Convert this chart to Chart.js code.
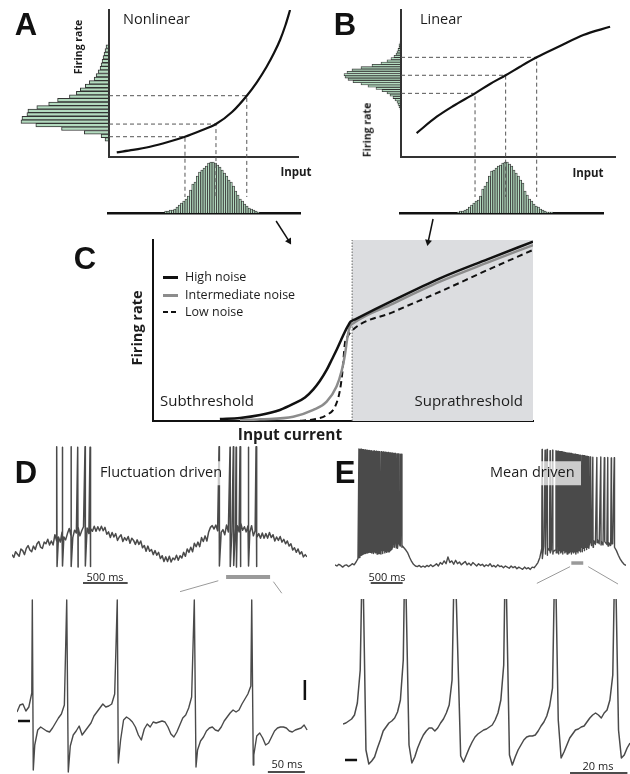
<!DOCTYPE html>
<html>
<head>
<meta charset="utf-8">
<title>Noise and firing rate</title>
<script src="https://cdn.jsdelivr.net/npm/chart.js@4.4.1/dist/chart.umd.min.js"></script>
<style>
  body { margin: 0; background: #fff; }
  #fig { position: relative; width: 630px; height: 774px; overflow: hidden; font-family: "Open Sans", "Noto Sans", sans-serif; color: #1c1c1c; }
  #fig canvas { position: absolute; }
  .t { position: absolute; white-space: nowrap; line-height: 1; }
  .panel { font-family: "Liberation Sans", Arial, sans-serif; font-weight: bold; font-size: 31px; color: #111; }
</style>
</head>
<body>
<div id="fig"></div>
<script>
// ---- A: nonlinear input/output (input and rate in arbitrary units 0-10) ----
var aCurveX = [0.41, 1.27, 2.17, 3.12, 4.02, 4.81, 5.66, 6.51, 7.29, 7.83, 8.34, 8.73, 9.05, 9.34, 9.58];
var aCurveY = [0.32, 0.48, 0.70, 1.02, 1.38, 1.77, 2.24, 3.06, 4.17, 5.10, 6.14, 7.07, 7.96, 8.98, 10.0];
var aProbeX = [4.02, 5.66, 7.29];
var aProbeY = [1.38, 2.24, 4.17];
// firing-rate histogram, bins from low rate to high rate
var aRateBinStart = 0.29, aRateBinWidth = 0.291;
var aRateCounts = [4, 8, 25, 48, 74, 89, 88, 83, 82, 73, 61, 52, 40, 33, 29, 24, 20, 15, 13, 11, 9, 8, 7, 6, 5, 4, 3];
// input histogram
var aInBinStart = 1.905, aInBinWidth = 0.179;
var aInCounts = [2, 2, 3, 3, 4, 6, 8, 10, 12, 14, 17, 23, 29, 31, 37, 41, 43, 45, 47, 50, 51, 51, 50, 48, 46, 43, 40, 37, 33, 31, 27, 22, 18, 14, 12, 9, 7, 5, 4, 3, 2, 1];

// ---- B: linear input/output ----
var bCurveX = [0.73, 1.67, 2.44, 3.46, 4.16, 4.89, 5.56, 6.34, 7.43, 8.52, 9.77];
var bCurveY = [1.63, 2.74, 3.47, 4.33, 4.97, 5.56, 6.14, 6.78, 7.55, 8.30, 8.86];
var bProbeX = [3.46, 4.89, 6.34];
var bProbeY = [4.33, 5.56, 6.78];
var bRateBinStart = 2.84, bRateBinWidth = 0.186;
var bRateCounts = [1, 2, 3, 4, 6, 8, 11, 14, 19, 25, 33, 40, 48, 53, 56, 57, 54, 49, 40, 29, 20, 14, 10, 7, 5, 4, 3, 2, 2, 1];
var bInBinStart = 1.59, bInBinWidth = 0.156;
var bInCounts = [1, 2, 2, 3, 4, 6, 8, 10, 12, 13, 17, 24, 27, 31, 37, 42, 43, 45, 47, 48, 50, 51, 51, 49, 47, 43, 40, 37, 33, 30, 22, 18, 14, 12, 9, 7, 6, 4, 3, 2, 1, 1, 1];

// ---- C: f-I curves for three noise levels ----
var cThreshold = 5.24;
var cHighX = [1.76, 2.29, 2.82, 3.34, 3.69, 4.00, 4.22, 4.39, 4.57, 4.70, 4.83, 4.95, 5.05, 5.13, 5.20, 5.32, 6.32, 7.55, 8.8, 10.0];
var cHighY = [0.11, 0.17, 0.33, 0.61, 0.94, 1.30, 1.75, 2.21, 2.82, 3.37, 3.92, 4.48, 4.93, 5.25, 5.49, 5.62, 6.66, 7.88, 8.93, 9.91];
var cMidX = [2.29, 2.82, 3.69, 4.22, 4.57, 4.83, 4.97, 5.05, 5.12, 5.18, 5.27, 6.32, 7.55, 8.8, 10.0];
var cMidY = [0.03, 0.09, 0.24, 0.61, 1.07, 1.90, 2.82, 3.65, 4.66, 5.21, 5.40, 6.49, 7.70, 8.75, 9.72];
var cLowX = [3.87, 4.22, 4.57, 4.79, 4.92, 4.99, 5.05, 5.12, 5.20, 6.32, 7.55, 8.8, 10.0];
var cLowY = [0.01, 0.09, 0.33, 0.79, 1.71, 2.82, 4.29, 4.66, 4.92, 6.02, 7.14, 8.34, 9.45];

// ---- D: fluctuation driven recording (mV), top trace sampled every 20 ms ----
var dTopStep = 20;
var dTopV = [-66.5, -69, -64, -66, -68, -61.5, -63, -66.5, -61, -58.5,
  -62.5, -64, -59, -62, -57, -55, -60, -61, -55.5, -57,
  -53, -58, -54.5, -58, -49, -54.5, -51, -55.5, -46.5, -51,
  -53.5, -48, -43.5, -50, -51.5, -45, -47.5, -42.5, -50, -45.5,
  -42, -47.5, -43, -48, -43.5, -46, -41.5, -46, -42, -45.5,
  -41.5, -45.5, -42.5, -48.5, -46.5, -51.5, -47, -51, -48, -54,
  -51, -49, -55, -51.5, -54, -50.5, -56.5, -52, -54, -57.5,
  -53.5, -57.5, -54.5, -60.5, -58.5, -63.5, -59, -63.5, -62, -66.5,
  -63, -67, -64.5, -70, -67.5, -72.5, -68.5, -72.5, -68, -73,
  -69.5, -71, -67, -71.5, -67.5, -69.5, -64.5, -68, -61.5, -64.5,
  -60, -64, -56.5, -59.5, -55.5, -59.5, -51.5, -55, -50, -54.5,
  -46.5, -42.5, -41, -44, -40.5, -45.5, -41, -47, -44.5, -49,
  -40.5, -46.5, -40.5, -46, -36.5, -43.5, -41, -46.5, -38.5, -45,
  -42, -46.5, -41, -47, -41, -50, -45.5, -51.5, -48, -52,
  -47.5, -52, -48, -52, -47, -51.5, -49, -54.5, -51, -54,
  -50.5, -55.5, -53, -57, -54.5, -59, -57, -62.5, -60.5, -64.5,
  -61.5, -66, -64, -68.5, -66.5, -68.5];
var dSpikeTimes = [500, 563, 660, 735, 817, 873, 2316, 2439, 2476, 2507, 2551, 2644, 2730];
var dSpikePeaks = [28.5, 28, 28.5, 28, 28.5, 28, 28.5, 28, 28.5, 28, 28.5, 28, 28.5];
var dSpikeTroughs = [-77, -76.5, -77, -77.5, -76.5, -77, -76.5, -77, -76, -77.5, -77, -76.5, -77];
// expanded D trace, sampled every 4 ms (null where the spike covers it)
var dBotStep = 4;
var dBotV = [-55.5, -52, -51.5, -55, -53, -46, -72, -64.5, -63, -64,
  -65, -65.5, -63.5, -61, -58.5, -56.5, -52, null, -72.5, -67,
  -65, -62.5, -67, -65, -63, -61, -57.5, -55.5, -53.5, -51.5,
  -53, -52.5, -51.5, -46.5, null, -69.5, -59.5, -58, -59, -60.5,
  -63, -67, -69.5, -64, -61.5, -63, -60.5, -61, -60.5, -60,
  -60.5, -63, -66.5, -68, -65.5, -62, -58.5, -57, -53.5, -48,
  null, -74.5, -70, -68, -65, -63.5, -63, -64.5, -65, -63,
  -60, -58, -56, -54.5, -55.5, -54.5, -51.5, -49, -46.5, -42.5,
  -77, -67.5, -66, -68.5, -72, -71, -68, -65, -63.5, -63,
  -63, -63.5, -65, -65.5, -64.5, -64, -63.5, -62, -64.5];
var dBotSpikeTimes = [20.7, 67.2, 135.5, 239.6, 317.2];
var dBotSpikePeaks = [0.5, 0.5, 0.5, 0.5, 0.5];
var dBotTroughTimes = [22.0, 69.3, 136.9, 241.9, 319.3];
var dBotTroughs = [-84.5, -85.5, -81, -83, -82];

// ---- E: mean driven recording (mV), top trace sampled every 30 ms ----
var eTopStep = 30;
var eTopV = [-75.5, -76.5, -75, -76, -77.5, -76, -75.5, -77, -76, -74.5,
  -75.5, -73, -70, -62, -60.5, -62.5, -63, -64.5, -64, -65,
  -65.5, -65, -66, -65.5, -66, -65.5, -65, -64.5, -64, -62.5,
  -60, -57, -60.5, -56, -59, -58.5, -60.5, -62.5, -65, -69,
  -72.5, -75, -76.5, -77, -76, -77.5, -76.5, -77.5, -76, -77,
  -75.5, -77, -76, -74.5, -76.5, -73.5, -75, -72, -74.5, -68.5,
  -73.5, -72, -75, -71.5, -74.5, -73, -75.5, -74, -72.5, -75.5,
  -74, -76, -73.5, -75, -76.5, -74.5, -76, -75, -77, -75.5,
  -76.5, -74.5, -77, -76, -77.5, -75.5, -77, -76.5, -78, -76.5,
  -77.5, -78.5, -76.5, -78, -77, -79, -77.5, -78.5, -79.5, -77.5,
  -79, -78, -79.5, -77.5, -78, -76, -73.5, -69, -61, -59,
  -61.5, -60.5, -63, -62, -64, -62.5, -65, -63, -64.5, -62,
  -64, -63, -65, -62.5, -64, -61, -63.5, -60, -62.5, -58,
  -61, -56.5, -60, -55, -58.5, -54, -57.5, -53, -57, -54.5,
  -58, -55, -57.5, -56, -58.5, -57, -60, -63, -67, -70.5,
  -73, -75, -76];
var eSpikeTimes = [375, 392, 409, 426, 443, 460, 477, 494, 511, 528, 545, 562, 579, 597, 615, 633, 651, 669, 687, 705,
  723, 741, 759, 777, 795, 813, 831, 849, 867, 885, 905, 925, 948, 975, 1000, 1022, 1045,
  3245, 3292, 3323, 3370, 3410, 3463,
  3480, 3497, 3514, 3531, 3548, 3565, 3582, 3599, 3616, 3633, 3650, 3667, 3684, 3701, 3718,
  3735, 3752, 3769, 3786, 3803, 3820, 3837, 3854, 3871, 3888, 3905, 3922, 3939, 3956, 3973,
  4002, 4040, 4103, 4165, 4220, 4274, 4329, 4376];
var eSpikePeaks = [26.5, 26, 26.3, 25.8, 25.9, 25.5, 25.7, 25.3, 25.4, 25, 25.2, 24.8, 25, 24.6, 24.8, 24.4, 24.6, 24.2, 24.3, 24,
  24.1, 23.7, 23.9, 23.5, 23.6, 23.2, 23.4, 23, 23.1, 22.8, 22.9, 22.5, 22.6, 22.2, 22.3, 22, 21.8,
  26, 25.5, 26, 25, 25.5, 25,
  24.5, 24.5, 24.2, 24, 24, 23.8, 23.5, 23.5, 23.2, 23, 23, 22.8, 22.5, 22.5, 22.2,
  22, 22, 21.8, 21.5, 21.5, 21.2, 21, 21, 20.8, 20.5, 20.5, 20.2, 20, 20, 19.8,
  19.5, 19.2, 19, 19.5, 18.8, 19, 18.5, 18.8];
var eSpikeTroughs = [-69, -67.5, -67, -66.5, -66, -65.5, -65.5, -65, -65, -64.5, -64.5, -64, -64, -64, -63.5, -63.5, -63.5, -63, -63, -63,
  -63, -63, -63, -63.5, -63.5, -63.5, -64, -64, -63, -62, -58, -60, -57, -61, -56, -59, -60,
  -70, -66, -67, -65, -66, -65,
  -64, -66, -63, -65, -64, -66, -63, -65, -64, -66, -62, -65, -64, -66, -63,
  -65, -64, -66, -62, -65, -63, -64, -60, -64, -58, -63, -60, -62, -57, -61,
  -55, -60, -56, -58, -55, -59, -57, -60];
// expanded E trace, sampled every 1 ms (null where the spike peak covers it)
var eBotStep = 1;
var eBotV = [-52, -51.5, -50.5, -49.5, -47.5, -41.5, -25, null, -65, -72,
  -70.5, -68.5, -64, -60, -55.5, -53.5, -51.5, -50.5, -49, -46,
  -40, -20, null, -62.5, -71.5, -68.5, -64, -60.5, -57.5, -55.5,
  -54, -54, -55.5, -54, -51.5, -49.5, -46.5, -42.5, -30, null,
  null, -68, -71, -67.5, -64, -61, -58.5, -57, -56, -55,
  -54.5, -53.5, -52.5, -50, -46.5, -40, -22.5, null, -67.5, -72.5,
  -68.5, -65, -62.5, -60, -58.5, -58, -58, -57.5, -55.5, -53,
  -51, -48, -43, -34, null, -50, -69, -66, -62.5, -59,
  -57, -55, -54.5, -53.5, -53, -51, -49, -47.5, -46.5, -47.5,
  -49, -46.5, -45, -40, -27.5, null, -55, -69, -67.5, -64, -61.5];
var eBotSpikeTimes = [6.8, 21.6, 38.9, 56.6, 73.9, 94.8];
var eBotSpikePeaks = [40, 40, 40, 40, 40, 40];

var fig = document.getElementById('fig');
var spikeWidth = 4;   // ms between peak and trough on the slow traces
var probeFloor = -2.72;

function makeChart(box, area, type, datasets, scales, more) {
    var canvas = document.createElement('canvas');
    canvas.width = box[2];
    canvas.height = box[3];
    canvas.style.left = box[0] + 'px';
    canvas.style.top = box[1] + 'px';
    fig.appendChild(canvas);
    var options = {
        responsive: false,
        animation: false,
        devicePixelRatio: 1,
        events: [],
        layout: { padding: { left: area[0] - box[0], top: area[1] - box[1], right: box[0] + box[2] - area[2], bottom: box[1] + box[3] - area[3] } },
        plugins: { legend: { display: false }, tooltip: { enabled: false } },
        scales: scales
    };
    for (var k in more) options[k] = more[k];
    return new Chart(canvas.getContext('2d'), { type: type, data: { datasets: datasets }, options: options });
}

function lin(min, max, extra) {
    var s = { type: 'linear', min: min, max: max, display: false };
    for (var k in extra) s[k] = extra[k];
    return s;
}

function axisLine(color, width) {
    return { display: true, grid: { display: false, drawTicks: false }, ticks: { display: false }, border: { display: true, color: color, width: width } };
}

function pairs(xs, ys) {
    return xs.map(function (x, i) { return { x: x, y: ys[i] }; });
}

function curve(xs, ys, color, width, dash) {
    return { data: pairs(xs, ys), borderColor: color, borderWidth: width, borderDash: dash || [], pointRadius: 0, cubicInterpolationMode: 'monotone', fill: false };
}

function seg(points, color, width, more) {
    var d = { data: points, borderColor: color, borderWidth: width, pointRadius: 0, fill: false, clip: false };
    for (var k in more) d[k] = more[k];
    return d;
}

function arrow(x0, y0, x1, y1, angle, color, width, head) {
    return seg([{ x: x0, y: y0 }, { x: x1, y: y1 }], color, width, {
        pointRadius: [0, head], pointStyle: 'triangle', pointRotation: [0, angle],
        pointBackgroundColor: color, pointBorderColor: color, pointBorderWidth: 0
    });
}

function probeLines(xs, ys) {
    return xs.map(function (x, i) {
        return seg([{ x: 0, y: ys[i] }, { x: x, y: ys[i] }, { x: x, y: probeFloor }], '#555', 1, { borderDash: [4, 3] });
    });
}

function bins(start, width, counts, horizontal) {
    return counts.map(function (c, i) {
        var mid = start + width * (i + 0.5);
        return horizontal ? { x: c, y: mid } : { x: mid, y: c };
    });
}

function histSet(points, edge) {
    return { data: points, backgroundColor: '#b3dbbf', borderColor: '#333', borderWidth: edge, barPercentage: 1, categoryPercentage: 1 };
}

function trace(step, values, extra) {
    var pts = [];
    values.forEach(function (v, i) { if (v !== null) pts.push({ x: i * step, y: v }); });
    pts = pts.concat(extra);
    pts.sort(function (a, b) { return a.x - b.x; });
    return pts;
}

function marks(times, values, shift) {
    return times.map(function (t, i) { return { x: t + (shift || 0), y: values[i] }; });
}

function traceSet(points, width) {
    return { data: points, borderColor: '#4a4a4a', borderWidth: width, pointRadius: 0, tension: 0, borderJoinStyle: 'round', fill: false };
}

function label(str, x, y, css, anchor) {
    var el = document.createElement('div');
    el.className = 't';
    el.textContent = str;
    el.style.cssText += css;
    el.style.left = x + 'px';
    el.style.top = y + 'px';
    el.style.transform = { l: 'translate(0,-50%)', c: 'translate(-50%,-50%)', r: 'translate(-100%,-50%)', v: 'translate(-50%,-50%) rotate(-90deg)' }[anchor || 'l'];
    fig.appendChild(el);
    return el;
}

function swatch(x, y, w, h, css) {
    var el = document.createElement('div');
    el.style.cssText = 'position:absolute;left:' + x + 'px;top:' + y + 'px;width:' + w + 'px;height:' + h + 'px;' + css;
    fig.appendChild(el);
}

// ---------- panel A ----------
makeChart([10, 0, 110, 170], [20, 10, 109, 157], 'bar',
    [histSet(bins(aRateBinStart, aRateBinWidth, aRateCounts, true), 1)],
    { x: lin(0, 90, { reverse: true }), y: lin(0, 10) }, { indexAxis: 'y' });
makeChart([100, 150, 210, 70], [108, 160, 300, 213], 'bar',
    [histSet(bins(aInBinStart, aInBinWidth, aInCounts, false), 0.8)],
    { x: lin(-0.053, 10.106, axisLine('#111', 2.5)), y: lin(0, 53) });
makeChart([60, 0, 260, 230], [109, 10, 298, 157], 'line',
    [curve(aCurveX, aCurveY, '#111', 2.2)].concat(probeLines(aProbeX, aProbeY)),
    { x: lin(0, 10, axisLine('#333', 2)), y: lin(0, 10, axisLine('#333', 2)) });

// ---------- panel B ----------
makeChart([330, 0, 75, 170], [340, 10, 401, 157], 'bar',
    [histSet(bins(bRateBinStart, bRateBinWidth, bRateCounts, true), 0.8)],
    { x: lin(0, 61, { reverse: true }), y: lin(0, 10) }, { indexAxis: 'y' });
makeChart([390, 150, 220, 70], [400, 160, 603, 213], 'bar',
    [histSet(bins(bInBinStart, bInBinWidth, bInCounts, false), 0.8)],
    { x: lin(-0.047, 9.44, axisLine('#111', 2.5)), y: lin(0, 53) });
makeChart([360, 0, 270, 230], [401, 10, 615, 157], 'line',
    [curve(bCurveX, bCurveY, '#111', 2.2)].concat(probeLines(bProbeX, bProbeY)),
    { x: lin(0, 10, axisLine('#333', 2)), y: lin(0, 10, axisLine('#333', 2)) });

// ---------- panel C ----------
makeChart([60, 215, 500, 230], [153, 240, 533, 421], 'line', [
    curve(cHighX, cHighY, '#111', 2.5),
    curve(cMidX, cMidY, '#8c8c8c', 2.5),
    curve(cLowX, cLowY, '#111', 2, [6, 4]),
    arrow(3.24, 11.05, 3.58, 9.94, 149, '#111', 1.5, 4),
    arrow(7.37, 11.16, 7.24, 9.89, 191, '#111', 1.5, 4),
    seg([{ x: cThreshold, y: 0 }, { x: cThreshold, y: 10 }], '#666', 1, { borderDash: [1.5, 1.5] }),
    { data: [{ x: cThreshold, y: 10 }, { x: 10, y: 10 }], fill: 'origin', backgroundColor: '#dcdde0', borderWidth: 0, pointRadius: 0 }
], { x: lin(0, 10, axisLine('#111', 2)), y: lin(0, 10, axisLine('#111', 2)) });

// ---------- panel D ----------
makeChart([0, 435, 320, 165], [12, 445, 307, 572], 'line', [
    traceSet(trace(dTopStep, dTopV, marks(dSpikeTimes, dSpikePeaks).concat(marks(dSpikeTimes, dSpikeTroughs, spikeWidth))), 1.5),
    seg([{ x: 794, y: -91.5 }, { x: 1294, y: -91.5 }], '#111', 1.5),
    seg([{ x: 2395, y: -86.2 }, { x: 2887, y: -86.2 }], '#9a9a9a', 4),
    arrow(2308, -89.5, 1880, -99.1, 254, '#9a9a9a', 1, 3),
    arrow(2924, -90.3, 3018, -100.5, 144, '#9a9a9a', 1, 3)
], { x: lin(0, 3300), y: lin(-81.8, 30) });
makeChart([0, 590, 320, 184], [17, 598, 313, 774], 'line', [
    traceSet(trace(dBotStep, dBotV, marks(dBotSpikeTimes, dBotSpikePeaks).concat(marks(dBotTroughTimes, dBotTroughs))), 1.4),
    seg([{ x: 1.35, y: -60 }, { x: 17.6, y: -60 }], '#111', 2.5),
    seg([{ x: 389, y: -39.5 }, { x: 389, y: -49.5 }], '#111', 2.5),
    seg([{ x: 339, y: -85.5 }, { x: 389, y: -85.5 }], '#111', 1.5)
], { x: lin(0, 400), y: lin(-86.5, 1.5) });

// ---------- panel E ----------
makeChart([320, 435, 310, 165], [335, 445, 628, 572], 'line', [
    traceSet(trace(eTopStep, eTopV, marks(eSpikeTimes, eSpikePeaks).concat(marks(eSpikeTimes, eSpikeTroughs, spikeWidth))), 1.4),
    seg([{ x: 560, y: -91.5 }, { x: 1060, y: -91.5 }], '#111', 1.5),
    seg([{ x: 3703, y: -73.9 }, { x: 3890, y: -73.9 }], '#9a9a9a', 3.5),
    arrow(3683, -77.1, 3163, -91.8, 244, '#9a9a9a', 1, 3),
    arrow(3968, -77.1, 4435, -92.4, 120, '#9a9a9a', 1, 3)
], { x: lin(0, 4560), y: lin(-81.8, 30) });
makeChart([320, 590, 310, 184], [343, 599, 630, 774], 'line', [
    traceSet(trace(eBotStep, eBotV, marks(eBotSpikeTimes, eBotSpikePeaks)), 1.5),
    seg([{ x: 0.7, y: -70 }, { x: 4.9, y: -70 }], '#111', 2.5),
    seg([{ x: 79.1, y: -76.5 }, { x: 99.1, y: -76.5 }], '#111', 1.5)
], { x: lin(0, 100), y: lin(-77, 10.5) });

// ---------- text ----------
var bold = 'font-weight:bold;';
label('A', 26, 24, '', 'c').className += ' panel';
label('B', 345, 24, '', 'c').className += ' panel';
label('C', 85, 258, '', 'c').className += ' panel';
label('D', 26, 472, '', 'c').className += ' panel';
label('E', 345, 472, '', 'c').className += ' panel';

label('Nonlinear', 123, 19, 'font-size:14.5px;');
label('Firing rate', 78, 47, bold + 'font-size:10.5px;', 'v');
label('Input', 296, 172, bold + 'font-size:11.5px;', 'c');

label('Linear', 420, 19, 'font-size:14.5px;');
label('Firing rate', 367, 130, bold + 'font-size:10.5px;', 'v');
label('Input', 588, 173, bold + 'font-size:11.5px;', 'c');

swatch(163, 276, 15, 3, 'background:#111;');
swatch(163, 294, 15, 3, 'background:#8c8c8c;');
swatch(163, 311, 5, 2, 'background:#111;');
swatch(171, 311, 5, 2, 'background:#111;');
label('High noise', 185, 277, 'font-size:12.5px;');
label('Intermediate noise', 185, 295, 'font-size:12.5px;');
label('Low noise', 185, 312, 'font-size:12.5px;');
label('Firing rate', 137, 328, bold + 'font-size:14.5px;', 'v');
label('Subthreshold', 160, 400, 'font-size:15px;');
label('Suprathreshold', 523, 400, 'font-size:15px;', 'r');
label('Input current', 290, 435, bold + 'font-size:15.5px;', 'c');

label('Fluctuation driven', 98, 473, 'font-size:14.5px;background:rgba(255,255,255,0.72);padding:4px 3px 5px 2px;');
label('500 ms', 105, 576, 'font-size:11px;', 'c');
label('50 ms', 287, 763, 'font-size:11px;', 'c');

label('Mean driven', 487, 473, 'font-size:14.5px;background:rgba(255,255,255,0.72);padding:4px 6px 5px 3px;');
label('500 ms', 387, 576, 'font-size:11px;', 'c');
label('20 ms', 598, 765, 'font-size:11px;', 'c');
</script>
</body>
</html>
